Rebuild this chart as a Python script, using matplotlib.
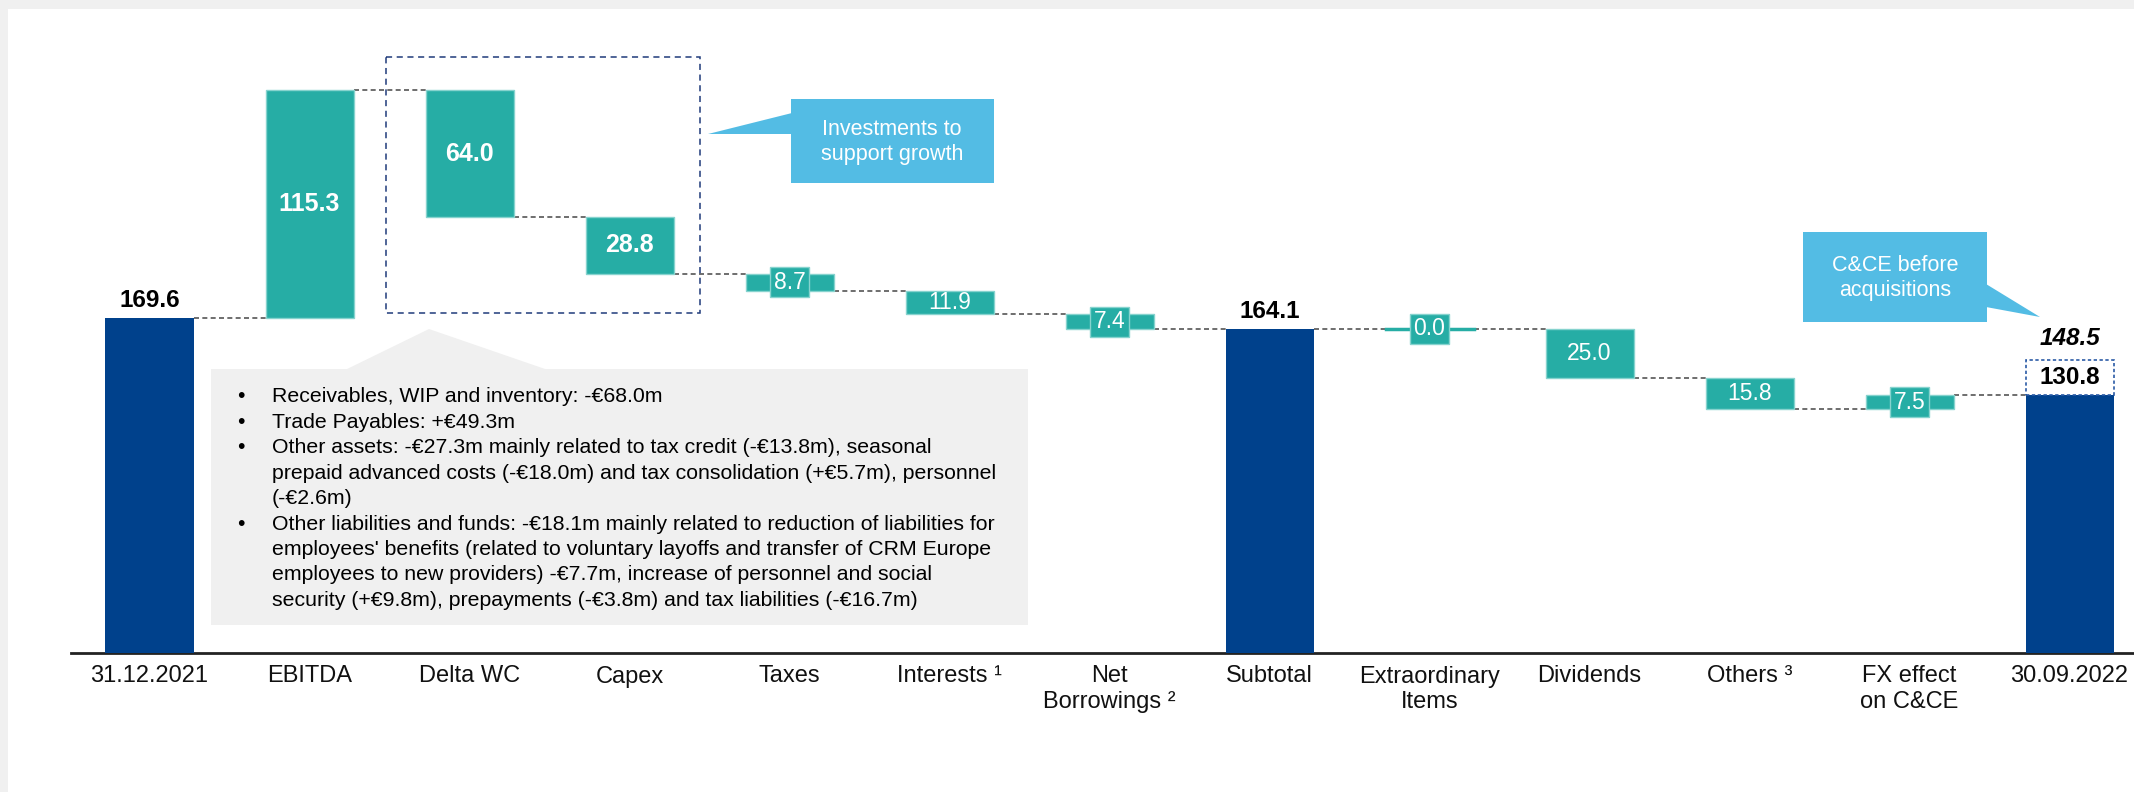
import matplotlib.pyplot as plt
from matplotlib.patches import Rectangle, Polygon

plt.rcParams['font.family'] = ['Liberation Sans', 'DejaVu Sans']

# chart data
categories = ["31.12.2021", "EBITDA", "Delta WC", "Capex", "Taxes", "Interests ¹",
              "Net\nBorrowings ²", "Subtotal", "Extraordinary\nItems", "Dividends",
              "Others ³", "FX effect\non C&CE", "30.09.2022"]
values = [169.6, 115.3, -64.0, -28.8, -8.7, -11.9, -7.4, 164.1, 0.0, -25.0, -15.8, 7.5, 130.8]
is_total = [True, False, False, False, False, False, False, True, False, False, False, False, True]
bold_inside = ["EBITDA", "Delta WC", "Capex"]
before_acquisitions = 148.5

wc_notes = [
    (True, "Receivables, WIP and inventory: -€68.0m"),
    (True, "Trade Payables: +€49.3m"),
    (True, "Other assets: -€27.3m mainly related to tax credit (-€13.8m), seasonal"),
    (False, "prepaid advanced costs (-€18.0m) and tax consolidation (+€5.7m), personnel"),
    (False, "(-€2.6m)"),
    (True, "Other liabilities and funds: -€18.1m mainly related to reduction of liabilities for"),
    (False, "employees' benefits (related to voluntary layoffs and transfer of CRM Europe"),
    (False, "employees to new providers) -€7.7m, increase of personnel and social"),
    (False, "security (+€9.8m), prepayments (-€3.8m) and tax liabilities (-€16.7m)"),
]

BLUE = "#00418C"
TEAL = "#26ADA5"
TEAL_EDGE = "#86D3CE"
CALLOUT = "#53BCE4"
GREY = "#F0F0F0"

W, H = 2134, 792
fig = plt.figure(figsize=(W / 100, H / 100), dpi=100, facecolor=GREY)
fig.patches.append(Rectangle((8 / W, 0), 1, 1 - 9 / H, transform=fig.transFigure,
                             facecolor="white", edgecolor="none", zorder=-1))

px_per_unit = 1.975
ax = fig.add_axes([71 / W, (H - 653) / H, (W - 71) / W, (653 - 20) / H])
ax.set_facecolor("none")
ax.set_xlim((71 - 149.5) / 160, (W - 149.5) / 160)
ax.set_ylim(0, (653 - 20) / px_per_unit)

# waterfall geometry
bottoms, heights, levels = [], [], []
running = 0
for v, t in zip(values, is_total):
    if t:
        bottoms.append(0)
        heights.append(v)
        running = v
    else:
        bottoms.append(running if v >= 0 else running + v)
        heights.append(abs(v))
        running += v
    levels.append(running)

xs = list(range(len(categories)))
bw = 0.55
colors = [BLUE if t else TEAL for t in is_total]
edges = ["none" if t else TEAL_EDGE for t in is_total]
ax.bar(xs, heights, bottom=bottoms, width=bw, color=colors, edgecolor=edges, linewidth=1, zorder=3)
# zero movement drawn as a flat line
for i, v in enumerate(values):
    if not is_total[i] and v == 0:
        ax.plot([i - bw / 2, i + bw / 2], [levels[i], levels[i]], color=TEAL, lw=2.5, zorder=3)

# connectors
for i in range(len(xs) - 1):
    ax.plot([i + bw / 2, i + 1 - bw / 2], [levels[i], levels[i]], color="#555555",
            lw=1.2, ls=(0, (3, 2)), zorder=2)

# labels
for i, v in enumerate(values):
    cat = categories[i]
    if is_total[i]:
        if i == len(values) - 1:
            continue
        ax.annotate(f"{v:.1f}", (i, v), xytext=(0, 4), textcoords="offset points",
                    ha="center", va="bottom", fontsize=17.5, fontweight="bold", color="black")
    else:
        y = bottoms[i] + heights[i] / 2
        if cat in bold_inside:
            ax.text(i, y, f"{abs(v):.1f}", ha="center", va="center", fontsize=18,
                    fontweight="bold", color="white", zorder=5)
        elif abs(v) < 10:
            ax.text(i, y, f"{abs(v):.1f}", ha="center", va="center", fontsize=16.5, color="white",
                    zorder=5, bbox=dict(boxstyle="square,pad=0.15", fc=TEAL, ec=TEAL_EDGE, lw=1))
        else:
            ax.text(i, y, f"{abs(v):.1f}", ha="center", va="center", fontsize=16.5,
                    color="white", zorder=5)

# final bar: value and before-acquisition box
last = len(values) - 1
ax.add_patch(Rectangle((last - bw / 2, values[last]), bw, before_acquisitions - values[last],
                       fill=False, edgecolor="#2B5BA6", lw=1.2, ls=(0, (2, 1.5)), zorder=4))
ax.text(last, (values[last] + before_acquisitions) / 2, f"{values[last]:.1f}", ha="center",
        va="center", fontsize=17.5, fontweight="bold", color="black", zorder=5)
ax.annotate(f"{before_acquisitions:.1f}", (last, before_acquisitions), xytext=(0, 7),
            textcoords="offset points", ha="center", va="bottom", fontsize=17.5,
            fontweight="bold", fontstyle="italic", color="black")

ax.set_xticks(xs)
ax.set_xticklabels(categories, fontsize=17, color="#111111")
ax.tick_params(axis="x", length=0, pad=9)
ax.set_yticks([])
for s in ["top", "right", "left"]:
    ax.spines[s].set_visible(False)
ax.spines["bottom"].set_color("#222222")
ax.spines["bottom"].set_linewidth(2)

# overlay in pixel coordinates for the annotations
ov = fig.add_axes([0, 0, 1, 1], zorder=10)
ov.set_xlim(0, W)
ov.set_ylim(H, 0)
ov.axis("off")
ov.patch.set_alpha(0)

# dashed box around Delta WC and Capex
ov.add_patch(Rectangle((386, 57), 314, 256, fill=False, edgecolor="#1F3A7A", lw=1.1,
                       ls=(0, (4, 3))))

# callout: investments
ov.add_patch(Rectangle((791, 99), 203, 84, facecolor=CALLOUT, edgecolor="none"))
ov.add_patch(Polygon([(792, 113), (708, 134), (792, 134)], closed=True, facecolor=CALLOUT,
                     edgecolor="none"))
ov.text(892, 142, "Investments to\nsupport growth", ha="center", va="center", fontsize=15.5,
        color="white", linespacing=1.25)

# callout: before acquisitions
ov.add_patch(Rectangle((1803, 232), 184, 90, facecolor=CALLOUT, edgecolor="none"))
ov.add_patch(Polygon([(1986, 284), (2040, 317), (1986, 307)], closed=True, facecolor=CALLOUT,
                     edgecolor="none"))
ov.text(1895, 278, "C&CE before\nacquisitions", ha="center", va="center", fontsize=15.5,
        color="white", linespacing=1.25)

# grey notes box
ov.add_patch(Rectangle((211, 369), 817, 256, facecolor=GREY, edgecolor="none"))
ov.add_patch(Polygon([(345, 370), (429, 329), (548, 370)], closed=True, facecolor=GREY,
                     edgecolor="none"))
for k, (bullet, line) in enumerate(wc_notes):
    y = 397 + k * 25.4
    if bullet:
        ov.text(237, y, "•", ha="left", va="center", fontsize=15.3, color="black")
    ov.text(272, y, line, ha="left", va="center", fontsize=15.3, color="black")

fig.savefig("out.png", dpi=100, facecolor=fig.get_facecolor())
